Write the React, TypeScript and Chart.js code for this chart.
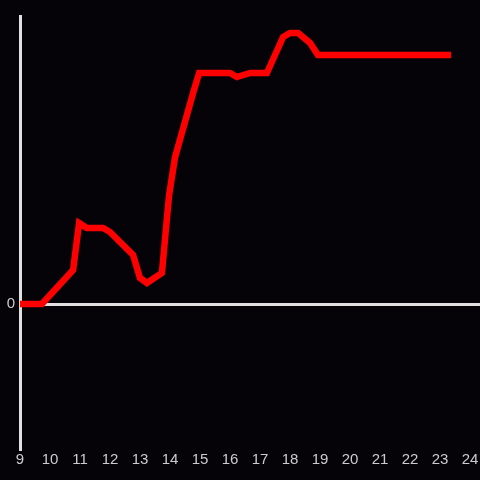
import React, { useEffect, useRef } from "react";
import { Chart, registerables } from "chart.js";

Chart.register(...registerables);

const hours = [9.0, 9.73, 10.77, 10.97, 11.23, 11.77, 12.0, 12.77, 13.0, 13.23, 13.73, 13.97, 14.17, 14.77, 14.97, 16.0, 16.23, 16.67, 17.23, 17.77, 18.0, 18.27, 18.67, 18.93, 23.37];
const values = [0, 0, 34, 81, 76, 76, 72, 49, 26, 21, 31, 109, 147, 211, 231, 231, 227, 231, 231, 267, 271, 271, 261, 249, 249];
const xTickLabels = [9, 10, 11, 12, 13, 14, 15, 16, 17, 18, 19, 20, 21, 22, 23, 24];
const yTickLabels = [0];

export default function App() {
  const ref = useRef<HTMLCanvasElement | null>(null);
  useEffect(() => {
    if (!ref.current) return;
    const chart = new Chart(ref.current, {
      type: "line",
      data: {
        datasets: [
          {
            data: hours.map((h, i) => ({ x: h, y: values[i] })),
            borderColor: "#ff0000",
            borderWidth: 6.5,
            pointRadius: 0,
            tension: 0,
            fill: false,
          },
        ],
      },
      options: {
        animation: false,
        responsive: false,
        maintainAspectRatio: false,
        layout: { padding: { top: 16, right: 0, left: 0, bottom: 0 } },
        plugins: { legend: { display: false }, tooltip: { enabled: false } },
        scales: {
          x: {
            type: "linear",
            min: 9,
            max: 24.333,
            afterBuildTicks: (axis: any) => {
              axis.ticks = xTickLabels.map((v) => ({ value: v }));
            },
            afterFit: (scale: any) => {
              scale.height = 31;
              scale.paddingLeft = 0;
              scale.paddingRight = 0;
            },
            grid: { display: false, drawTicks: false },
            border: { display: false },
            ticks: {
              color: "#cccccc",
              padding: 2,
              maxRotation: 0,
              autoSkip: false,
              font: { family: "'Liberation Sans', Arial, sans-serif", size: 15 },
            },
          },
          y: {
            type: "linear",
            min: -145,
            max: 288,
            afterBuildTicks: (axis: any) => {
              axis.ticks = yTickLabels.map((v) => ({ value: v }));
            },
            afterFit: (scale: any) => {
              scale.width = 20;
              scale.paddingTop = 0;
              scale.paddingBottom = 0;
            },
            grid: { color: "#e0e0e0", lineWidth: 3, drawTicks: false },
            border: { display: true, color: "#e0e0e0", width: 3 },
            ticks: {
              color: "#cccccc",
              padding: 5,
              font: { family: "'Liberation Sans', Arial, sans-serif", size: 15 },
            },
          },
        },
      },
    });
    return () => chart.destroy();
  }, []);
  return (
    <div style={{ position: "fixed", left: 0, top: 0, width: 480, height: 480, background: "#050308" }}>
      <canvas ref={ref} width={480} height={480} style={{ display: "block", width: 480, height: 480 }} />
    </div>
  );
}
